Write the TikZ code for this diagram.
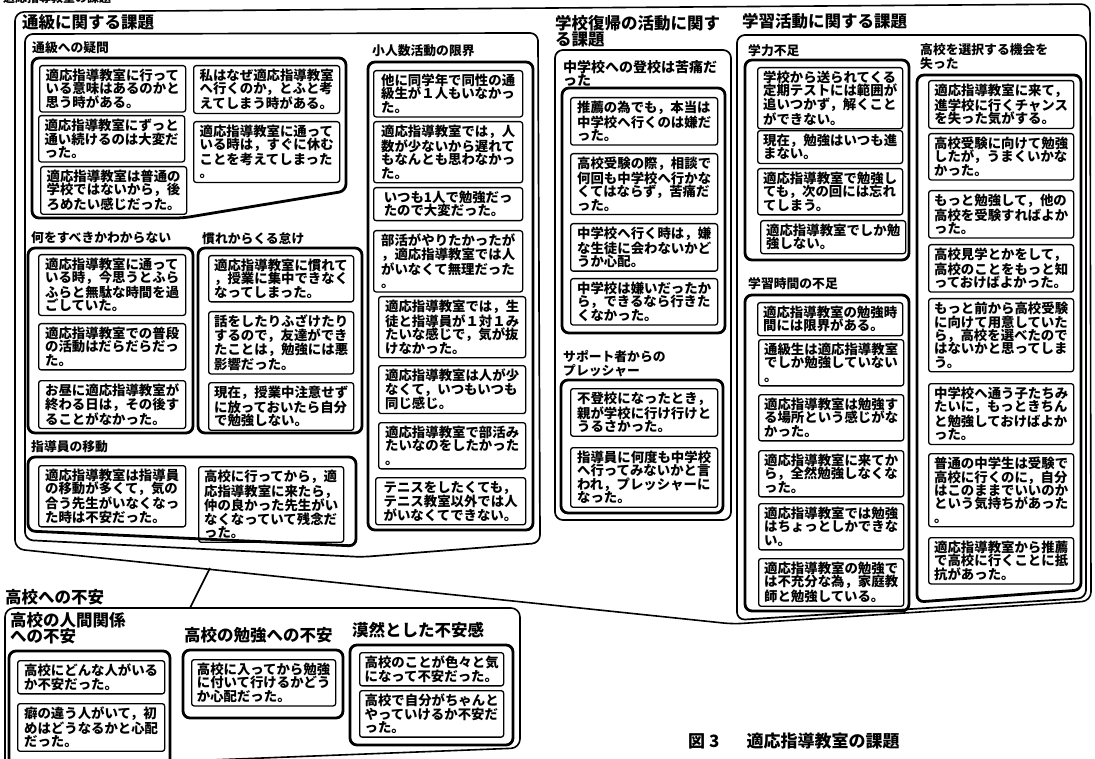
\documentclass[tikz,border=0pt]{standalone}
\usepackage{fontspec}
\setmainfont{Noto Sans CJK JP}
\newcommand\cardf{\bfseries\fontsize{13.4}{13.4}\selectfont}
\newcommand\labf{\bfseries\fontsize{12.8}{14}\selectfont}
\newcommand\hdrf{\bfseries\fontsize{16.5}{16}\selectfont}
\tikzset{
  card/.style={draw, line width=1.3pt, rounded corners=2.5pt, inner xsep=3pt, inner ysep=3.4pt,
    align=left, anchor=north west, font=\cardf},
  grp/.style={draw, line width=2.8pt, rounded corners=7pt},
  mid/.style={draw, line width=1.7pt, rounded corners=8pt},
  outer/.style={draw, line width=1.6pt, rounded corners=9pt},
  lab/.style={anchor=north west, inner sep=0pt, align=left, font=\labf},
  hdr/.style={anchor=north west, inner sep=0pt, align=left, font=\hdrf},
  conn/.style={draw, line width=1.6pt}
}
\newcommand\cd[4][146]{\node[card, minimum width=#1pt] (#2) at (#3) {#4};}
\begin{document}
\begin{tikzpicture}[x=1pt,y=-1pt]
\useasboundingbox (0,0) rectangle (1095,759);
\node[anchor=base west, inner sep=0pt, font=\bfseries\fontsize{12}{12}\selectfont] (title) at (3,3) {適応指導教室の課題};
% outermost group
\draw[outer] (15,12) -- (1090,4) -- (1091,601) -- (733,624) -- (15,549) -- cycle;
\coordinate (g0c) at (210,568);
%% ---------- 通級に関する課題
\node[hdr] (h1) at (22,14) {通級に関する課題};
\draw[mid] (25,34) -- (538,33) -- (540,543) -- (362,557) -- (25,540) -- cycle;
\node[lab] (l11) at (32,41) {通級への疑問};
\draw[grp] (32,58) -- (346,58) -- (346,191) -- (183,218) -- (32,218) -- cycle;
\cd{c1}{39,65}{適応指導教室に行って\\いる意味はあるのかと\\思う時がある。}
\cd{c2}{38,115}{適応指導教室にずっと\\通い続けるのは大変だ\\った。}
\cd{c3}{40,166}{適応指導教室は普通の\\学校ではないから，後\\ろめたい感じだった。}
\cd{c4}{193,65}{私はなぜ適応指導教室\\へ行くのか，とふと考\\えてしまう時がある。}
\cd{c5}{193,121}{適応指導教室に通って\\いる時は，すぐに休む\\ことを考えてしまった\\。}
\node[lab] (l12) at (31,231) {何をすべきかわからない};
\draw[grp] (28,248) rectangle (193,433);
\cd[147]{c6}{38,254}{適応指導教室に通って\\いる時，今思うとふら\\ふらと無駄な時間を過\\ごしていた。}
\cd[147]{c7}{38,323}{適応指導教室での普段\\の活動はだらだらだっ\\た。}
\cd[147]{c8}{38,380}{お昼に適応指導教室が\\終わる日は，その後す\\ることがなかった。}
\node[lab] (l13) at (202,232) {慣れからくる怠け};
\draw[grp] (198,248) rectangle (362,433);
\cd[145]{c9}{208,255}{適応指導教室に慣れて\\，授業に集中できなく\\なってしまった。}
\cd[145]{c10}{208,311}{話をしたりふざけたり\\するので，友達ができ\\たことは，勉強には悪\\影響だった。}
\cd[145]{c11}{208,382}{現在，授業中注意せず\\に放っておいたら自分\\で勉強しない。}
\node[lab] (l14) at (31,440) {指導員の移動};
\draw[grp] (28,457) -- (356,457) -- (356,546) -- (28,531) -- cycle;
\cd[147]{c12}{38,465}{適応指導教室は指導員\\の移動が多くて，気の\\合う先生がいなくなっ\\た時は不安だった。}
\cd[145]{c13}{198,466}{高校に行ってから，適\\応指導教室に来たら，\\仲の良かった先生がい\\なくなっていて残念だ\\った。}
\node[lab] (l15) at (372,44) {小人数活動の限界};
\draw[grp] (368,62) rectangle (533,530);
\cd[149]{c14}{373,70}{他に同学年で同性の通\\級生が１人もいなかっ\\た。}
\cd[149]{c15}{373,121}{適応指導教室では，人\\数が少ないから遅れて\\もなんとも思わなかっ\\た。}
\cd[149]{c16}{373,187}{いつも1人で勉強だっ\\たので大変だった。}
\cd[149]{c17}{373,230}{部活がやりたかったが\\，適応指導教室では人\\がいなくて無理だった\\。}
\cd[147]{c18}{378,296}{適応指導教室では，生\\徒と指導員が１対１み\\たいな感じで，気が抜\\けなかった。}
\cd[147]{c19}{378,365}{適応指導教室は人が少\\なくて，いつもいつも\\同じ感じ。}
\cd[147]{c20}{378,422}{適応指導教室で部活み\\たいなのをしたかった\\。}
\cd[150]{c21}{375,477}{テニスをしたくても，\\テニス教室以外では人\\がいなくてできない。}
%% ---------- 学校復帰
\node[hdr] (h2) at (555,15) {学校復帰の活動に関す\\る課題};
\draw[mid] (555,50) rectangle (731,520);
\node[lab, font=\bfseries\fontsize{14}{13.5}\selectfont] (l21) at (563,60) {中学校への登校は苦痛だ\\った};
\draw[grp] (562,88) rectangle (725,333);
\cd[147]{c22}{570,97}{推薦の為でも，本当は\\中学校へ行くのは嫌だ\\った。}
\cd[147]{c23}{570,153}{高校受験の際，相談で\\何回も中学校へ行かな\\くてはならず，苦痛だ\\った。}
\cd[147]{c24}{570,223}{中学校へ行く時は，嫌\\な生徒に会わないかど\\うか心配。}
\cd[147]{c25}{570,278}{中学校は嫌いだったか\\ら，できるなら行きた\\くなかった。}
\node[lab] (l22) at (563,350) {サポート者からの\\プレッシャー};
\draw[grp] (561,380) rectangle (723,513);
\cd[147]{c26}{570,388}{不登校になったとき，\\親が学校に行け行けと\\うるさかった。}
\cd[147]{c27}{570,447}{指導員に何度も中学校\\へ行ってみないかと言\\われ，プレッシャーに\\なった。}
%% ---------- 学習活動
\node[hdr] (h3) at (742,13) {学習活動に関する課題};
\draw[mid] (737,35) -- (1086,35) -- (1086,598) -- (737,620) -- cycle;
\node[lab] (l31) at (748,44) {学力不足};
\draw[grp] (745,60) rectangle (909,260);
\cd[145]{c28}{757,67}{学校から送られてくる\\定期テストには範囲が\\追いつかず，解くこと\\ができない。}
\cd[145]{c29}{757,130}{現在，勉強はいつも進\\まない。}
\cd[145]{c30}{757,168}{適応指導教室で勉強し\\ても，次の回には忘れ\\てしまう。}
\cd[145]{c31}{760,220}{適応指導教室でしか勉\\強しない。}
\node[lab] (l32) at (748,277) {学習時間の不足};
\draw[grp] (745,295) rectangle (909,611);
\cd[145]{c32}{757,302}{適応指導教室の勉強時\\間には限界がある。}
\cd[145]{c33}{758,339}{通級生は適応指導教室\\でしか勉強していない\\。}
\cd[145]{c34}{758,394}{適応指導教室は勉強す\\る場所という感じがな\\かった。}
\cd[145]{c35}{758,450}{適応指導教室に来てか\\ら，全然勉強しなくな\\った。}
\cd[145]{c36}{758,503}{適応指導教室では勉強\\はちょっとしかできな\\い。}
\cd[145]{c37}{758,558}{適応指導教室の勉強で\\は不充分な為，家庭教\\師と勉強している。}
\node[lab] (l33) at (920,43) {高校を選択する機会を\\失った};
\draw[grp] (917,75) -- (1081,75) -- (1081,590) -- (917,602) -- cycle;
\cd[145]{c38}{928,80}{適応指導教室に来て，\\進学校に行くチャンス\\を失った気がする。}
\cd[145]{c39}{928,133}{高校受験に向けて勉強\\したが，うまくいかな\\かった。}
\cd[145]{c40}{928,190}{もっと勉強して，他の\\高校を受験すればよか\\った。}
\cd[145]{c41}{928,244}{高校見学とかをして，\\高校のことをもっと知\\っておけばよかった。}
\cd[145]{c42}{928,298}{もっと前から高校受験\\に向けて用意していた\\ら，高校を選べたので\\はないかと思ってしま\\う。}
\cd[145]{c43}{928,383}{中学校へ通う子たちみ\\たいに，もっときちん\\と勉強しておけばよか\\った。}
\cd[145]{c44}{928,453}{普通の中学生は受験で\\高校に行くのに，自分\\はこのままでいいのか\\という気持ちがあった\\。}
\cd[145]{c45}{928,537}{適応指導教室から推薦\\で高校に行くことに抵\\抗があった。}
%% ---------- 高校への不安
\node[hdr] (h4) at (5,589) {高校への不安};
\draw[outer] (5,608) -- (520,608) -- (520,748) -- (5,768) -- cycle;
\coordinate (e0c) at (190,608);
\draw[conn] (g0c) -- (e0c);
\node[hdr] (l41) at (10,612) {高校の人間関係\\への不安};
\draw[grp] (9,651) rectangle (170,775);
\cd[147]{e1}{17,660}{高校にどんな人がいる\\か不安だった。}
\cd[147]{e2}{17,703}{癖の違う人がいて，初\\めはどうなるかと心配\\だった。}
\node[hdr] (l42) at (184,627) {高校の勉強への不安};
\draw[grp] (183,650) rectangle (343,718);
\cd[144]{e3}{191,659}{高校に入ってから勉強\\に付いて行けるかどう\\か心配だった。}
\node[hdr] (l43) at (352,622) {漠然とした不安感};
\draw[grp] (350,645) rectangle (513,745);
\cd[144]{e4}{359,652}{高校のことが色々と気\\になって不安だった。}
\cd[144]{e5}{359,690}{高校で自分がちゃんと\\やっていけるか不安だ\\った。}
%% caption
\node[anchor=north west, inner sep=0pt, font=\bfseries\fontsize{17}{17}\selectfont] (cap) at (688,733) {図 3\hspace{1.6em}適応指導教室の課題};
\end{tikzpicture}
\end{document}
